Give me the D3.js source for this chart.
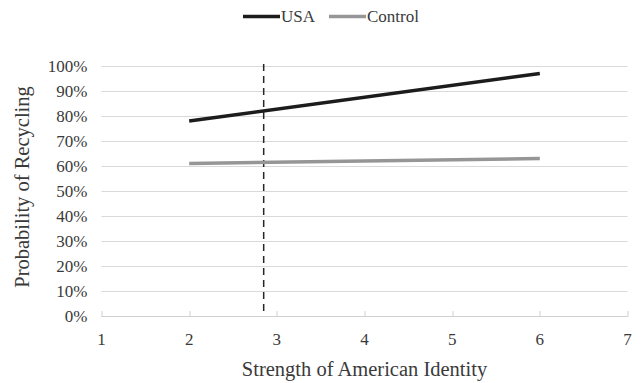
<!DOCTYPE html>
<html>
<head>
<meta charset="utf-8">
<script src="https://cdn.jsdelivr.net/npm/d3@7"></script>
<style>
  body { margin: 0; background: #fff; }
</style>
</head>
<body>
<svg id="chart" width="641" height="383"></svg>
<script>
// data
var xTicks = [1, 2, 3, 4, 5, 6, 7];
var yTicks = [0, 0.1, 0.2, 0.3, 0.4, 0.5, 0.6, 0.7, 0.8, 0.9, 1.0];
var identity = [2, 6];
var usa = [0.78, 0.97];
var control = [0.61, 0.63];
var cutoff = 2.85;
var seriesNames = ["USA", "Control"];
var seriesColors = ["#1c1c1c", "#969696"];

var FONT = "'Liberation Serif'";

var svg = d3.select("#chart");
var margin = {left: 101.5, right: 13.5, top: 66, bottom: 67},
    width  = +svg.attr("width")  - margin.left - margin.right,
    height = +svg.attr("height") - margin.top  - margin.bottom;

var x = d3.scaleLinear().domain([1, 7]).range([0, width]);
var y = d3.scaleLinear().domain([0, 1]).range([height, 0]);

var g = svg.append("g").attr("transform", "translate(" + margin.left + "," + margin.top + ")");

// gridlines
g.selectAll(".grid")
  .data(yTicks.filter(function(d){ return d > 0; }))
  .enter().append("line")
    .attr("x1", 0).attr("x2", width)
    .attr("y1", function(d){ return Math.round(y(d)) + 0.5; })
    .attr("y2", function(d){ return Math.round(y(d)) + 0.5; })
    .attr("stroke", "#d9d9d9").attr("stroke-width", 1);

// x axis line + ticks
g.append("line")
  .attr("x1", 0).attr("x2", width)
  .attr("y1", Math.round(height) + 0.5).attr("y2", Math.round(height) + 0.5)
  .attr("stroke", "#d0d0d0").attr("stroke-width", 1);
g.selectAll(".xtick")
  .data(xTicks)
  .enter().append("line")
    .attr("x1", function(d){ return Math.round(x(d)) + 0.5; })
    .attr("x2", function(d){ return Math.round(x(d)) + 0.5; })
    .attr("y1", height - 5).attr("y2", height + 1)
    .attr("stroke", "#d0d0d0");

// y labels
g.selectAll(".ylab")
  .data(yTicks)
  .enter().append("text")
    .attr("x", -14)
    .attr("y", function(d){ return y(d); })
    .attr("dy", "0.35em")
    .attr("text-anchor", "end")
    .style("font-family", FONT)
    .style("font-size", "17px")
    .attr("fill", "#3a3a3a")
    .text(d3.format(".0%"));

// x labels
g.selectAll(".xlab")
  .data(xTicks)
  .enter().append("text")
    .attr("x", function(d){ return x(d); })
    .attr("y", height + 29)
    .attr("text-anchor", "middle")
    .style("font-family", FONT)
    .style("font-size", "17px")
    .attr("fill", "#3a3a3a")
    .text(function(d){ return d; });

// dashed cutoff
g.append("line")
  .attr("x1", x(cutoff)).attr("x2", x(cutoff))
  .attr("y1", y(1) - 2).attr("y2", height)
  .attr("stroke", "#262626").attr("stroke-width", 1.5)
  .attr("stroke-dasharray", "7,5");

var line = d3.line()
  .x(function(d){ return x(d[0]); })
  .y(function(d){ return y(d[1]); });

[usa, control].forEach(function(vals, i){
  g.append("path")
    .datum(identity.map(function(v, j){ return [v, vals[j]]; }))
    .attr("fill", "none")
    .attr("stroke", seriesColors[i])
    .attr("stroke-width", 3.5)
    .attr("d", line);
});

// axis titles
svg.append("text")
  .attr("x", margin.left + width / 2)
  .attr("y", 376)
  .attr("text-anchor", "middle")
  .style("font-family", FONT)
  .style("font-size", "20.5px")
  .attr("fill", "#3a3a3a")
  .text("Strength of American Identity");

svg.append("text")
  .attr("transform", "translate(29," + (margin.top + height / 2 - 4) + ") rotate(-90)")
  .attr("text-anchor", "middle")
  .style("font-family", FONT)
  .style("font-size", "20.5px")
  .attr("fill", "#3a3a3a")
  .text("Probability of Recycling");

// legend
var legend = svg.append("g").attr("transform", "translate(0,16.5)");
var lx = [243, 329];
seriesNames.forEach(function(name, i){
  legend.append("line")
    .attr("x1", lx[i]).attr("x2", lx[i] + 37)
    .attr("y1", 0).attr("y2", 0)
    .attr("stroke", seriesColors[i]).attr("stroke-width", 3.5);
  legend.append("text")
    .attr("x", lx[i] + 38)
    .attr("y", 0)
    .attr("dy", "0.35em")
    .style("font-family", FONT)
    .style("font-size", "17px")
    .attr("fill", "#3a3a3a")
    .text(name);
});
</script>
</body>
</html>
